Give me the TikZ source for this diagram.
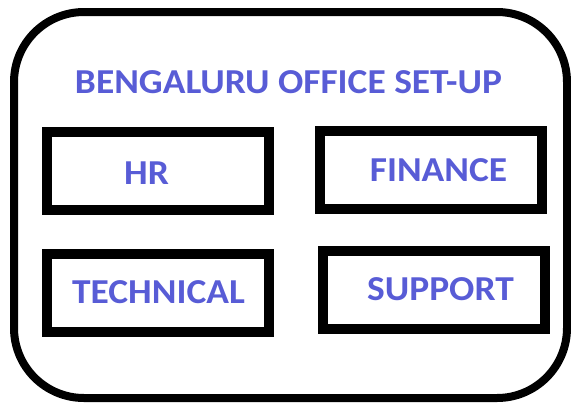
\documentclass[tikz,border=0pt]{standalone}
\usepackage{fontspec}
\setmainfont{Carlito}[FakeStretch=1.07]
\definecolor{deptblue}{RGB}{88,92,214}
\begin{document}
\begin{tikzpicture}[x=1pt,y=-1pt,
    every node/.style={inner sep=0pt},
    dept/.style={draw,line width=10pt,minimum width=222pt,minimum height=78pt},
    label/.style={text=deptblue,font=\fontsize{35}{38}\selectfont\bfseries}]
  \useasboundingbox (0,0) rectangle (571,405);
  \draw[line width=8pt,rounded corners=70pt] (14,12) rectangle (567,398);
  \node[label] (title) at (288.5,82.5) {BENGALURU OFFICE SET-UP};
  % department boxes
  \node[dept] (hr) at (158.25,171) {};
  \node[dept] (fin) at (431,170) {};
  \node[dept] (tech) at (158.25,292.5) {};
  \node[dept] (sup) at (434,290) {};
  \node[label] (hrtext) at (146.5,173.5) {HR};
  \node[label] (fintext) at (438.5,170) {FINANCE};
  \node[label] (techtext) at (158.5,292.5) {TECHNICAL};
  \node[label] (suptext) at (440.5,289) {SUPPORT};
\end{tikzpicture}
\end{document}
